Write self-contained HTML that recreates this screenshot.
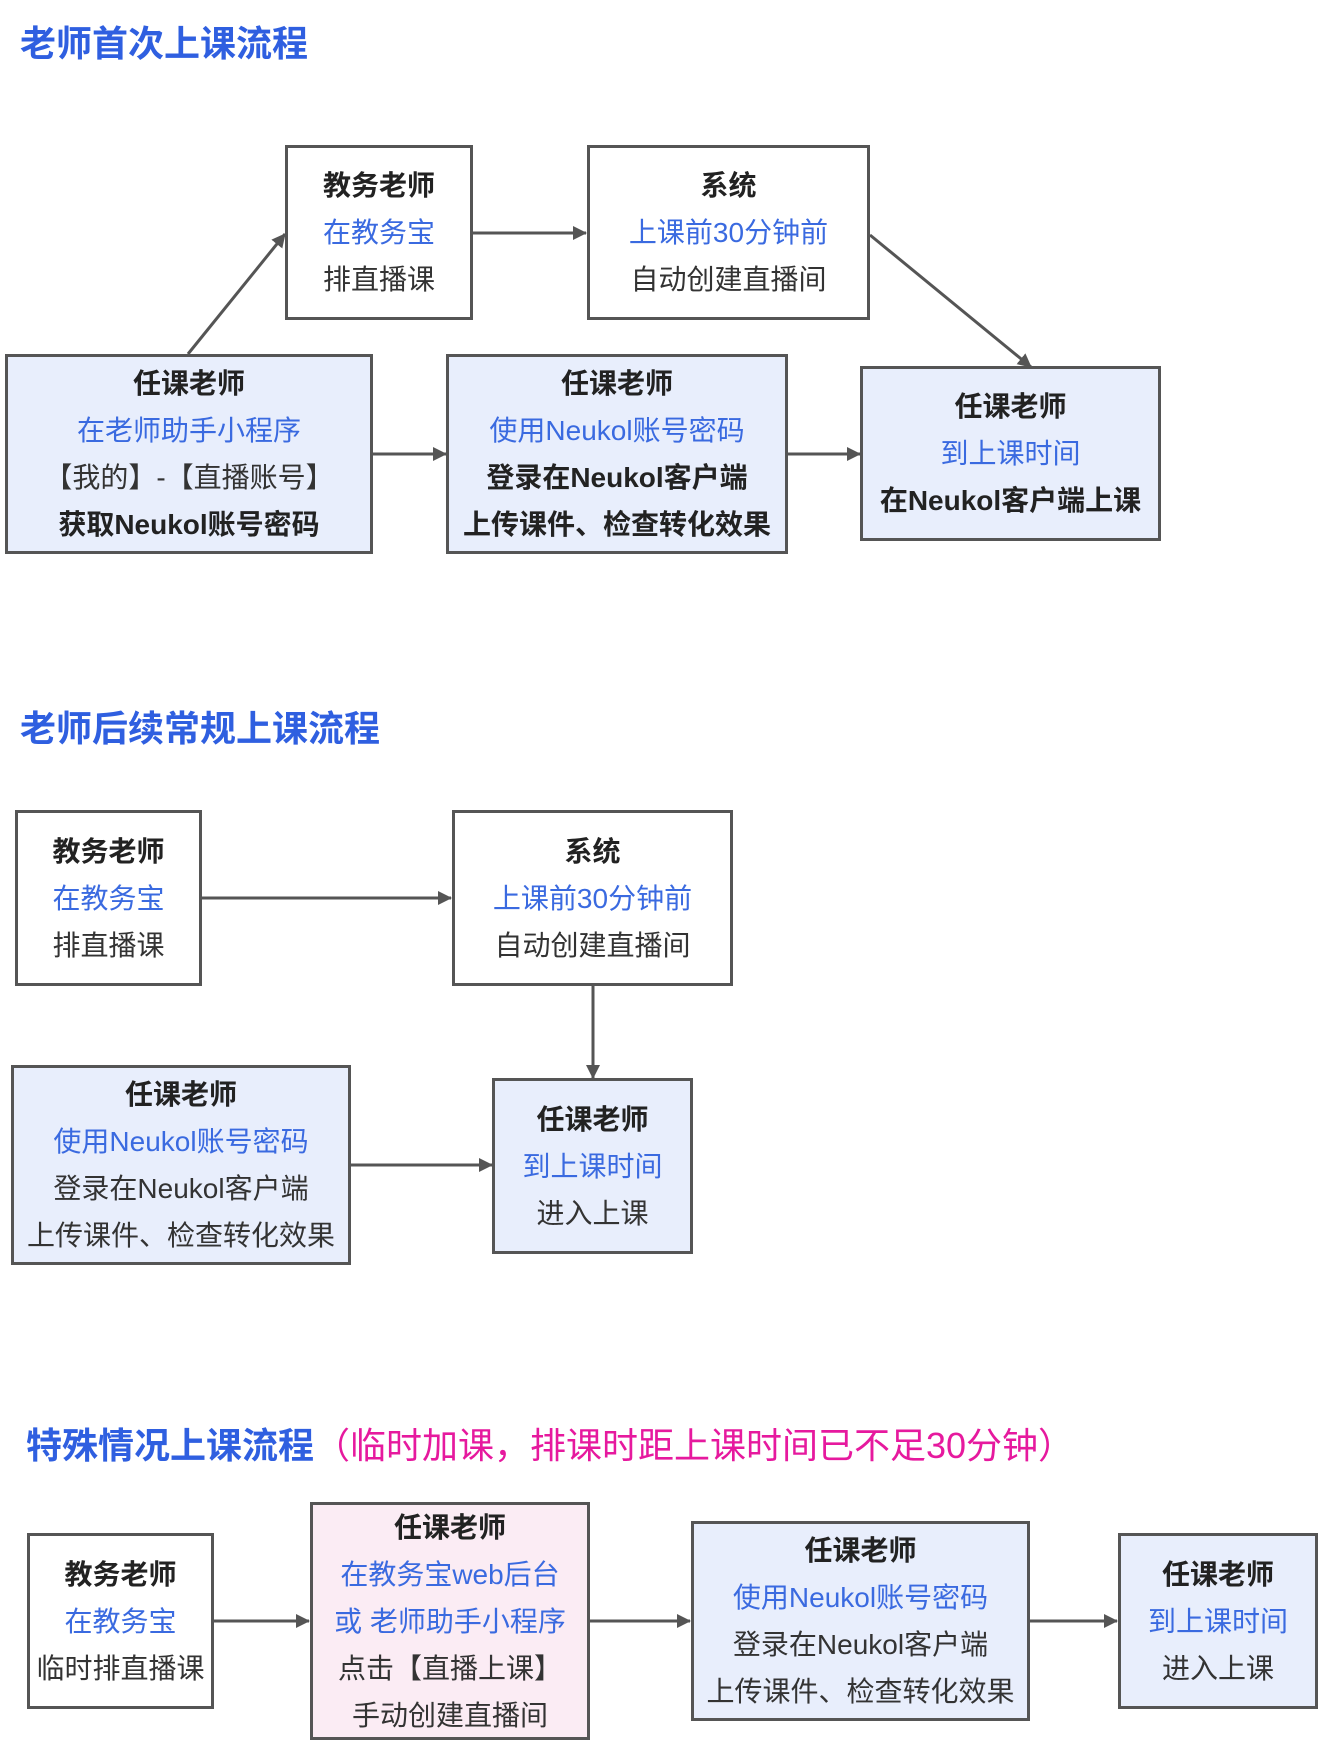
<!DOCTYPE html>
<html><head><meta charset="utf-8"><style>
body{margin:0;width:1334px;height:1743px;background:#fff;position:relative;overflow:hidden;font-family:"Liberation Sans","Noto Sans CJK SC",sans-serif;}
.t{position:absolute;font-weight:bold;color:#2f5fe0;font-size:36px;white-space:nowrap;line-height:40px}
.b{position:absolute;box-sizing:border-box;border:3px solid #555;background:#fff;display:flex;flex-direction:column;justify-content:center;align-items:center;font-size:28px;color:#333;line-height:47px;white-space:nowrap}
.bl{background:#e8eefc}.pk{background:#fbecf4}
.k{font-weight:bold;color:#222}.u{color:#3a6ae0}
svg{position:absolute;left:0;top:0}
</style></head><body>
<div class="t" style="left:20px;top:24px">老师首次上课流程</div>
<div class="t" style="left:20px;top:709px">老师后续常规上课流程</div>
<div class="t" style="left:26px;top:1426px">特殊情况上课流程<span style="color:#e6199e;font-weight:normal">（临时加课，排课时距上课时间已不足30分钟）</span></div>

<div class="b" style="left:285px;top:145px;width:188px;height:175px"><div class="k">教务老师</div><div class="u">在教务宝</div><div>排直播课</div></div>
<div class="b" style="left:587px;top:145px;width:283px;height:175px"><div class="k">系统</div><div class="u">上课前30分钟前</div><div>自动创建直播间</div></div>
<div class="b bl" style="left:5px;top:354px;width:368px;height:200px"><div class="k">任课老师</div><div class="u">在老师助手小程序</div><div>【我的】-【直播账号】</div><div class="k">获取Neukol账号密码</div></div>
<div class="b bl" style="left:446px;top:354px;width:342px;height:200px"><div class="k">任课老师</div><div class="u">使用Neukol账号密码</div><div class="k">登录在Neukol客户端</div><div class="k">上传课件、检查转化效果</div></div>
<div class="b bl" style="left:860px;top:366px;width:301px;height:175px"><div class="k">任课老师</div><div class="u">到上课时间</div><div class="k">在Neukol客户端上课</div></div>

<div class="b" style="left:15px;top:810px;width:187px;height:176px"><div class="k">教务老师</div><div class="u">在教务宝</div><div>排直播课</div></div>
<div class="b" style="left:452px;top:810px;width:281px;height:176px"><div class="k">系统</div><div class="u">上课前30分钟前</div><div>自动创建直播间</div></div>
<div class="b bl" style="left:11px;top:1065px;width:340px;height:200px"><div class="k">任课老师</div><div class="u">使用Neukol账号密码</div><div>登录在Neukol客户端</div><div>上传课件、检查转化效果</div></div>
<div class="b bl" style="left:492px;top:1078px;width:201px;height:176px"><div class="k">任课老师</div><div class="u">到上课时间</div><div>进入上课</div></div>

<div class="b" style="left:27px;top:1533px;width:187px;height:176px"><div class="k">教务老师</div><div class="u">在教务宝</div><div>临时排直播课</div></div>
<div class="b pk" style="left:310px;top:1502px;width:280px;height:238px"><div class="k">任课老师</div><div class="u">在教务宝web后台</div><div class="u">或 老师助手小程序</div><div>点击【直播上课】</div><div>手动创建直播间</div></div>
<div class="b bl" style="left:691px;top:1521px;width:339px;height:200px"><div class="k">任课老师</div><div class="u">使用Neukol账号密码</div><div>登录在Neukol客户端</div><div>上传课件、检查转化效果</div></div>
<div class="b bl" style="left:1118px;top:1533px;width:200px;height:176px"><div class="k">任课老师</div><div class="u">到上课时间</div><div>进入上课</div></div>

<svg width="1334" height="1743">
<defs><marker id="a" markerWidth="14" markerHeight="14" refX="13" refY="7" orient="auto" markerUnits="userSpaceOnUse"><path d="M0,0 L14,7 L0,14 z" fill="#555"/></marker></defs>
<g stroke="#555" stroke-width="3" fill="none" marker-end="url(#a)">
<line x1="473" y1="233" x2="586" y2="233"/>
<line x1="188" y1="354" x2="285" y2="234"/>
<line x1="870" y1="235" x2="1031" y2="367"/>
<line x1="373" y1="454" x2="446" y2="454"/>
<line x1="788" y1="454" x2="860" y2="454"/>
<line x1="202" y1="898" x2="451" y2="898"/>
<line x1="593" y1="986" x2="593" y2="1078"/>
<line x1="351" y1="1165" x2="492" y2="1165"/>
<line x1="214" y1="1621" x2="309" y2="1621"/>
<line x1="590" y1="1621" x2="690" y2="1621"/>
<line x1="1030" y1="1621" x2="1117" y2="1621"/>
</g></svg>
</body></html>
